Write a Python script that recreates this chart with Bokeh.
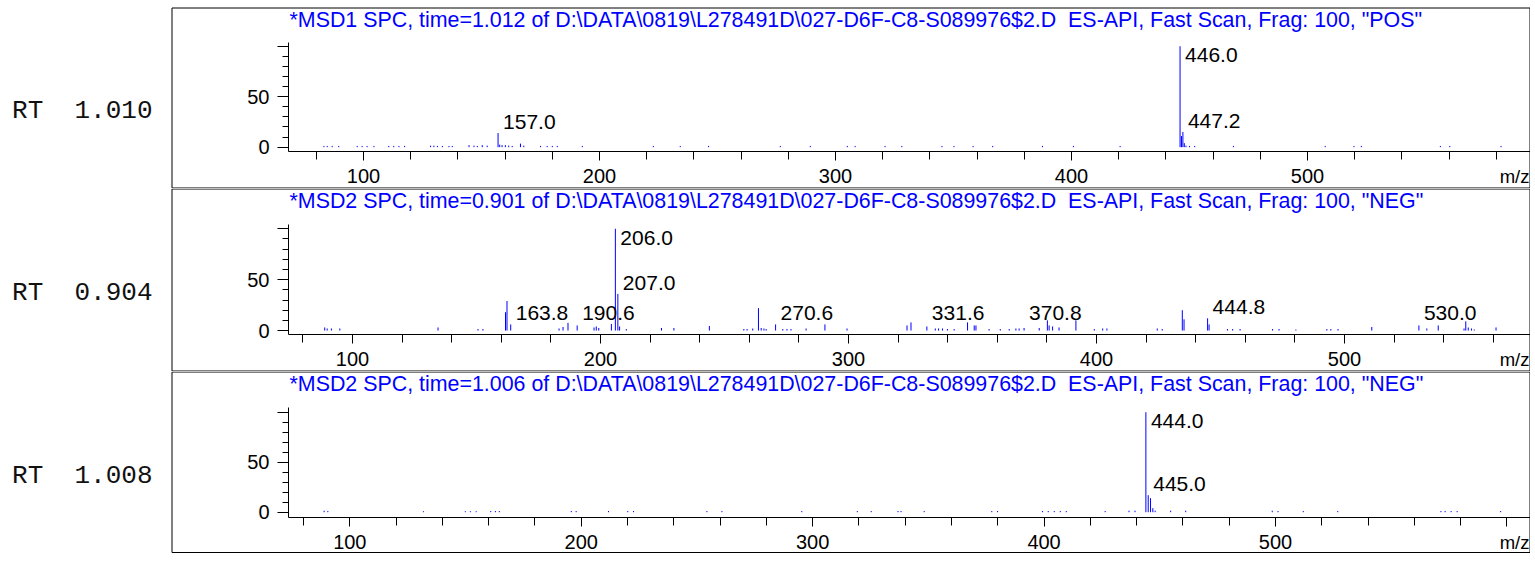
from bokeh.plotting import figure
from bokeh.models import (Range1d, FixedTicker, SingleIntervalTicker, Label, LabelSet,
                          BoxAnnotation, ColumnDataSource)
from bokeh.core.properties import value
from bokeh.layouts import column
from bokeh.embed import file_html
from bokeh.resources import INLINE

# ---------------- data ----------------
# Panel 1: MSD1 positive scan, RT 1.010
pos_mz = [83.2, 84.6, 86.7, 89.5, 97.3, 99.4, 101.5, 104.4, 110.7, 112.8,
          115.0, 117.4, 128.4, 129.8, 131.3, 133.4, 136.2, 137.6, 144.7, 146.8,
          148.2, 150.3, 152.4, 157.0, 157.7, 158.7, 160.1, 161.5, 163.0, 166.5,
          167.9, 175.0, 177.8, 180.0, 182.1, 192.7, 222.8, 234.2, 246.2, 276.6,
          289.3, 305.0, 308.3, 321.0, 328.1, 345.1, 350.2, 358.3, 366.6, 387.7,
          400.8, 420.6, 446.0, 446.6, 447.2, 447.8, 448.5, 450.0, 452.2, 468.6,
          507.5, 519.7, 522.8, 556.3, 560.3, 582.0]
pos_int = [1.2, 1.2, 1.2, 1.2, 1.2, 1.2, 1.2, 1.2, 1.2, 1.2,
           1.2, 1.2, 1.5, 1.5, 1.2, 1.2, 1.2, 1.2, 2.0, 1.5,
           1.2, 2.0, 1.5, 14.0, 2.5, 2.0, 2.0, 1.5, 1.2, 3.5,
           1.5, 1.2, 1.2, 1.2, 1.2, 1.2, 1.2, 1.2, 1.2, 1.2,
           1.2, 1.2, 1.2, 1.2, 1.2, 1.2, 1.2, 1.2, 1.2, 1.2,
           1.2, 1.2, 100.0, 11.0, 15.0, 4.0, 1.5, 1.2, 1.2, 1.2,
           1.2, 1.2, 1.2, 1.2, 1.2, 1.2]
pos_lab_mz = [157.0, 446.0, 447.2]
pos_lab_int = [14.0, 100.0, 15.0]
pos_lab_text = ["157.0", "446.0", "447.2"]

# Panel 2: MSD2 negative scan, RT 0.904
neg1_mz = [88.8, 89.8, 91.5, 94.9, 134.5, 150.6, 152.6, 161.7, 162.3, 163.8,
           183.3, 184.9, 186.9, 190.6, 197.4, 198.3, 199.3, 204.4, 206.0, 207.0,
           207.7, 210.4, 224.6, 229.6, 243.9, 257.8, 259.1, 261.4, 263.7, 264.8,
           265.9, 266.8, 270.6, 273.5, 275.2, 276.8, 282.9, 290.5, 299.4, 323.6,
           325.2, 331.6, 335.0, 336.3, 337.9, 339.9, 342.6, 348.0, 350.7, 351.4,
           356.7, 361.2, 364.8, 367.5, 368.8, 370.8, 376.9, 380.2, 380.9, 382.3,
           384.9, 391.7, 399.1, 402.5, 404.2, 424.5, 426.5, 434.6, 435.3, 444.8,
           445.4, 452.8, 454.9, 457.9, 471.0, 473.6, 480.4, 492.9, 494.5, 497.4,
           511.0, 530.0, 533.2, 537.8, 548.2, 548.9, 549.9, 551.2, 552.3, 561.1]
neg1_int = [3.0, 2.0, 2.0, 2.0, 3.0, 1.5, 1.5, 18.0, 29.0, 6.0,
            2.0, 3.5, 7.5, 5.0, 3.0, 4.0, 2.5, 6.5, 100.0, 36.0,
            4.0, 1.5, 2.5, 2.5, 4.5, 1.5, 1.5, 2.0, 22.0, 2.5,
            2.0, 1.5, 6.0, 1.5, 1.5, 1.5, 2.0, 6.0, 2.0, 5.0,
            8.0, 4.0, 2.0, 2.0, 2.0, 1.5, 1.5, 8.0, 5.0, 5.0,
            1.5, 1.5, 1.5, 2.0, 2.0, 2.5, 2.5, 10.0, 5.0, 4.0,
            3.0, 10.0, 1.5, 2.0, 2.0, 2.0, 1.5, 20.0, 11.0, 12.0,
            6.0, 1.5, 1.5, 1.5, 1.5, 1.5, 1.0, 1.5, 1.5, 1.5,
            3.5, 5.0, 2.0, 5.0, 2.0, 9.0, 3.0, 2.0, 1.0, 3.0]
neg1_lab_mz = [163.8, 190.6, 206.0, 207.0, 270.6, 331.6, 370.8, 444.8, 530.0]
neg1_lab_int = [6.0, 5.0, 100.0, 36.0, 6.0, 4.0, 2.5, 12.0, 5.0]
neg1_lab_text = ["163.8", "190.6", "206.0", "207.0", "270.6", "331.6", "370.8", "444.8", "530.0"]

# Panel 3: MSD2 negative scan, RT 1.008
neg2_mz = [88.9, 90.5, 131.8, 149.9, 152.1, 154.6, 160.9, 162.9, 164.6, 195.7,
           197.8, 211.8, 220.1, 222.6, 254.3, 260.8, 295.3, 319.3, 325.3, 336.9,
           338.2, 348.2, 377.4, 379.9, 399.3, 401.8, 404.4, 407.0, 409.6, 426.4,
           436.7, 439.3, 444.0, 445.0, 446.0, 447.0, 448.0, 454.7, 461.2, 498.6,
           501.1, 512.0, 526.9, 571.5, 573.3, 575.9, 578.5, 597.3]
neg2_int = [1.5, 1.2, 1.0, 1.0, 1.0, 1.0, 1.2, 1.2, 1.2, 1.2,
            1.2, 1.2, 1.2, 1.2, 1.2, 1.2, 1.2, 1.2, 1.2, 1.2,
            1.2, 1.2, 1.2, 1.2, 1.2, 1.2, 1.2, 1.2, 1.2, 1.2,
            1.5, 1.5, 100.0, 17.0, 14.0, 4.0, 1.5, 1.5, 1.5, 1.5,
            1.2, 1.2, 1.2, 1.2, 1.2, 1.2, 1.2, 1.2]
neg2_lab_mz = [444.0, 445.0]
neg2_lab_int = [100.0, 17.0]
neg2_lab_text = ["444.0", "445.0"]

titles = [
    '*MSD1 SPC, time=1.012 of D:\\DATA\\0819\\L278491D\\027-D6F-C8-S089976$2.D\u00a0 ES-API, Fast Scan, Frag: 100, "POS"',
    '*MSD2 SPC, time=0.901 of D:\\DATA\\0819\\L278491D\\027-D6F-C8-S089976$2.D\u00a0 ES-API, Fast Scan, Frag: 100, "NEG"',
    '*MSD2 SPC, time=1.006 of D:\\DATA\\0819\\L278491D\\027-D6F-C8-S089976$2.D\u00a0 ES-API, Fast Scan, Frag: 100, "NEG"',
]
rt_labels = ["RT\u00a0 1.010", "RT\u00a0 0.904", "RT\u00a0 1.008"]
y_ticks = [0, 50, 100]
y_minor = [10, 20, 30, 40, 60, 70, 80, 90]

# ---------------- layout config ----------------
SANS = "Liberation Sans"
MONO = "Liberation Mono"
BLUE = "#0000ff"
W = 1530          # canvas width
PL, PR = 288, 1530  # plot-area left / right (pixels)

panels = [
    dict(title=titles[0], rt=rt_labels[0], mz=pos_mz, inten=pos_int,
         lmz=pos_lab_mz, lint=pos_lab_int, ltxt=pos_lab_text,
         xr=(68.2, 594.5), yr=(-4.3, 103.7), height=188, ptop=42, pbot=151,
         btop=7, bbot=188),
    dict(title=titles[1], rt=rt_labels[1], mz=neg1_mz, inten=neg1_int,
         lmz=neg1_lab_mz, lint=neg1_lab_int, ltxt=neg1_lab_text,
         xr=(74.2, 575.0), yr=(-3.9, 104.2), height=183, ptop=36, pbot=146,
         btop=0, bbot=183),
    dict(title=titles[2], rt=rt_labels[2], mz=neg2_mz, inten=neg2_int,
         lmz=neg2_lab_mz, lint=neg2_lab_int, ltxt=neg2_lab_text,
         xr=(73.5, 610.2), yr=(-5.3, 104.7), height=182, ptop=36, pbot=146,
         btop=0, bbot=181.5),
]


def build(cfg):
    H = cfg["height"]
    pt, pb = cfg["ptop"], cfg["pbot"]
    xs, xe = cfg["xr"]
    ys, ye = cfg["yr"]
    kx = (xe - xs) / (PR - PL)
    ky = (ye - ys) / (pb - pt)

    def fx(px):
        return xs + (px - PL) * kx

    def fy(py):
        return ys + (pb - py) * ky

    p = figure(width=W, height=H, x_range=Range1d(fx(0), fx(W)), y_range=Range1d(fy(H), fy(0)),
               output_backend="svg", toolbar_location=None, min_border=0)
    p.outline_line_color = None
    p.xgrid.visible = False
    p.ygrid.visible = False
    p.background_fill_color = "white"
    p.border_fill_color = "white"

    xa = p.xaxis[0]
    xa.fixed_location = ys
    xa.bounds = (xs, xe)
    xa.ticker = SingleIntervalTicker(interval=100, num_minor_ticks=5)
    xa.major_label_overrides = {600: ""}
    xa.major_tick_out = 9
    xa.major_tick_in = 0
    xa.minor_tick_out = 8
    xa.minor_tick_in = 0
    xa.axis_line_color = "black"
    xa.major_tick_line_color = "black"
    xa.minor_tick_line_color = "black"
    xa.major_label_text_font = SANS
    xa.major_label_text_font_size = "20px"
    xa.major_label_text_color = "black"
    xa.major_label_standoff = 8

    ya = p.yaxis[0]
    ya.fixed_location = xs
    ya.bounds = (ys, ye)
    ya.ticker = FixedTicker(ticks=y_ticks, minor_ticks=y_minor)
    ya.major_label_overrides = {100: ""}
    ya.major_tick_out = 11
    ya.major_tick_in = 0
    ya.minor_tick_out = 6
    ya.minor_tick_in = 0
    ya.axis_line_color = "black"
    ya.major_tick_line_color = "black"
    ya.minor_tick_line_color = "black"
    ya.major_label_text_font = SANS
    ya.major_label_text_font_size = "20px"
    ya.major_label_text_color = "black"
    ya.major_label_standoff = 8

    # spectrum sticks
    src = ColumnDataSource(dict(x=cfg["mz"], top=cfg["inten"]))
    p.segment(x0="x", y0=0, x1="x", y1="top", source=src, line_color=BLUE, line_width=1)

    # peak annotations
    top_x, top_y, top_t, low_x, low_y, low_t = [], [], [], [], [], []
    for m, v, t in zip(cfg["lmz"], cfg["lint"], cfg["ltxt"]):
        if v > 80:
            top_x.append(m); top_y.append(v); top_t.append(t)
        else:
            low_x.append(m); low_y.append(max(v, 6.0)); low_t.append(t)
    if top_x:
        p.add_layout(LabelSet(source=ColumnDataSource(dict(x=top_x, y=top_y, t=top_t)),
                              x="x", y="y", text="t", x_offset=5, y_offset=-2,
                              text_baseline="top", text_align="left",
                              text_font=value(SANS), text_font_size=value("21px"),
                              text_color="black"))
    if low_x:
        p.add_layout(LabelSet(source=ColumnDataSource(dict(x=low_x, y=low_y, t=low_t)),
                              x="x", y="y", text="t", x_offset=5, y_offset=4,
                              text_baseline="alphabetic", text_align="left",
                              text_font=value(SANS), text_font_size=value("21px"),
                              text_color="black"))

    # title line (blue)
    p.add_layout(Label(x=fx(289), y=fy(cfg["btop"] + 12), text=cfg["title"],
                       text_align="left", text_baseline="alphabetic",
                       text_font=SANS, text_font_size="21.4px", text_color=BLUE))

    # retention time label
    p.add_layout(Label(x=fx(152), y=fy(pt + 68), text=cfg["rt"],
                       text_align="right", text_baseline="alphabetic",
                       text_font=MONO, text_font_size="26px", text_color="#111111"))

    # m/z caption
    p.add_layout(Label(x=fx(1529), y=fy(pb + 25), text="m/z",
                       text_align="right", text_baseline="alphabetic",
                       text_font=SANS, text_font_size="18.5px", text_color="black"))

    # panel frame
    p.add_layout(BoxAnnotation(left=fx(171.5), right=fx(1529.5),
                               top=fy(cfg["btop"] + 0.5), bottom=fy(cfg["bbot"] - 0.5),
                               fill_color=None, fill_alpha=0, line_color="black",
                               line_width=1, line_alpha=1))
    return p


figs = [build(c) for c in panels]
layout = column(*figs, spacing=0)

open("out.html", "w").write(file_html(layout, INLINE))
